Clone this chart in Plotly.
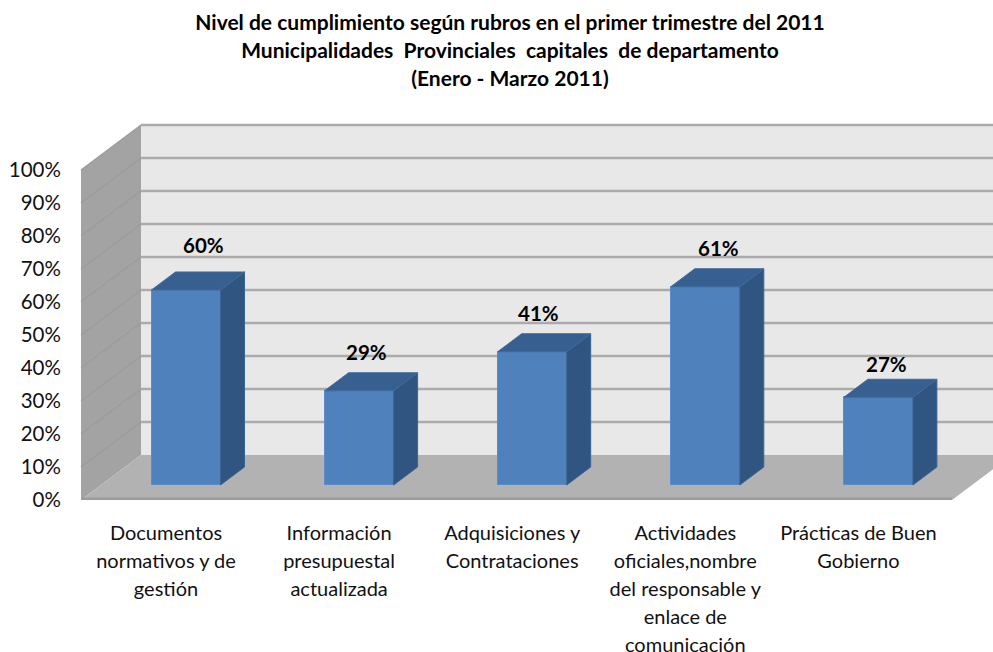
import plotly.graph_objects as go

# ---- data ----
categories = [
    "Documentos<br>normativos y de<br>gestión",
    "Información<br>presupuestal<br>actualizada",
    "Adquisiciones y<br>Contrataciones",
    "Actividades<br>oficiales,nombre<br>del responsable y<br>enlace de<br>comunicación",
    "Prácticas de Buen<br>Gobierno",
]
values = [60, 29, 41, 61, 27]
y_ticks = [0, 10, 20, 30, 40, 50, 60, 70, 80, 90, 100]
title_lines = [
    "Nivel de cumplimiento según rubros en el primer trimestre del 2011",
    "Municipalidades  Provinciales  capitales  de departamento",
    "(Enero - Marzo 2011)",
]

# ---- oblique projection of the Excel 3-D look ----
W, H = 993, 652
M_L, M_T, M_B = 78, 120, 152
UNIT_X, UNIT_Y = 173.1, 3.3          # px per category / per percent
X0_PX = 166                          # px of category 0
DX = 60 / UNIT_X                     # full floor depth, in axis units
DY = 45 / UNIT_Y
FL, FR = (81 - X0_PX) / UNIT_X, (952 - X0_PX) / UNIT_X   # floor front edge
BAR_W = 69 / UNIT_X
BAR_FRONT = 1 / 3                    # bar front plane, fraction of depth
BAR_DEPTH = 0.4                      # bar depth, fraction of depth
BAR_SCALE = 0.985

fig = go.Figure()

# front faces
xc = [i + BAR_FRONT * DX for i in range(len(values))]
base = BAR_FRONT * DY
tops = [v * BAR_SCALE for v in values]
fig.add_trace(go.Bar(x=xc, y=tops, base=base, width=BAR_W,
                     marker=dict(color="#4F81BD", line=dict(color="#5B8CC8", width=1)),
                     hoverinfo="skip", showlegend=False))

# side and top faces
for xm, t in zip(xc, tops):
    xr, xl = xm + BAR_W / 2, xm - BAR_W / 2
    ddx, ddy = BAR_DEPTH * DX, BAR_DEPTH * DY
    fig.add_trace(go.Scatter(
        x=[xr, xr + ddx, xr + ddx, xr, xr], y=[base, base + ddy, base + t + ddy, base + t, base],
        mode="lines", fill="toself", fillcolor="#2F5580", line=dict(color="#3A6496", width=1),
        hoverinfo="skip", showlegend=False))
    fig.add_trace(go.Scatter(
        x=[xl, xl + ddx, xr + ddx, xr, xl], y=[base + t, base + t + ddy, base + t + ddy, base + t, base + t],
        mode="lines", fill="toself", fillcolor="#375F8F", line=dict(color="#3F6A9C", width=1),
        hoverinfo="skip", showlegend=False))

# data labels (moved by hand in the original)
label_nudge_px = [17.5, 7, 6.5, 13.5, 8]
label_rise = [27, 21, 21, 21, 15]
annotations = []
for xm, t, v, n, r in zip(xc, tops, values, label_nudge_px, label_rise):
    annotations.append(dict(x=xm, y=base + t + BAR_DEPTH * DY, text=f"<b>{v}%</b>",
                            xref="x", yref="y", showarrow=False, xshift=n, yshift=r,
                            font=dict(size=20.5, color="black", family="Lato")))

# walls, floor, grid
def poly(pts):
    return "M " + " L ".join(f"{x},{y}" for x, y in pts) + " Z"

shapes = [
    dict(type="path", path=poly([(FL + DX, 0 + DY), (FR + DX, DY), (FR + DX, 100 + DY), (FL + DX, 100 + DY)]),
         fillcolor="#E8E8E8", line=dict(width=0), layer="below"),
    dict(type="path", path=poly([(FL, 0), (FL + DX, DY), (FL + DX, 100 + DY), (FL, 100)]),
         fillcolor="#A3A3A3", line=dict(width=0), layer="below"),
    dict(type="path", path=poly([(FL, 0), (FL + DX, DY), (FR + DX, DY), (FR, 0)]),
         fillcolor="#B2B2B2", line=dict(width=0), layer="below"),
    dict(type="line", x0=FL, x1=FR, y0=0.3, y1=0.3, line=dict(color="#9C9C9C", width=3), layer="below"),
]
for t in y_ticks[1:]:
    shapes.append(dict(type="line", x0=FL + DX, x1=FR + DX, y0=t + DY, y1=t + DY,
                       line=dict(color="#ABABAB", width=2.5), layer="below"))
    shapes.append(dict(type="line", x0=FL, x1=FL + DX, y0=t, y1=t + DY,
                       line=dict(color="#9B9B9B", width=1.2), layer="below"))


def sized(text, px):
    return "<br>".join(f'<span style="font-size:{px}px">{s}</span>' for s in text.split("<br>"))


fig.update_layout(
    width=W, height=H, autosize=False,
    margin=dict(l=M_L, r=0, t=M_T, b=M_B, autoexpand=False),
    paper_bgcolor="white", plot_bgcolor="white",
    font=dict(family="Lato", color="#111111"),
    title=dict(text="<b>" + sized("<br>".join(title_lines), 21) + "</b>",
               x=510 / W, xanchor="center", y=1 - 30 / H, yanchor="top",
               font=dict(size=21.5, family="Lato", color="black")),
    shapes=shapes, annotations=annotations, showlegend=False, bargap=0,
    xaxis=dict(range=[(M_L - X0_PX) / UNIT_X, (W - X0_PX) / UNIT_X],
               tickmode="array", tickvals=list(range(len(categories))),
               ticktext=[sized(c, 20) for c in categories], tickangle=0,
               tickfont=dict(size=21.5), ticks="outside", ticklen=13, tickcolor="rgba(0,0,0,0)",
               showgrid=False, zeroline=False, showline=False),
    yaxis=dict(range=[0, (H - M_B - M_T) / UNIT_Y],
               tickmode="array", tickvals=y_ticks, ticktext=[f"{t}%" for t in y_ticks],
               tickfont=dict(size=20.5), ticks="outside", ticklen=12, tickcolor="rgba(0,0,0,0)",
               showgrid=False, zeroline=False, showline=False),
)

fig.write_html("out.html", config={"displayModeBar": False},
               post_script="document.body.style.margin='0';")
